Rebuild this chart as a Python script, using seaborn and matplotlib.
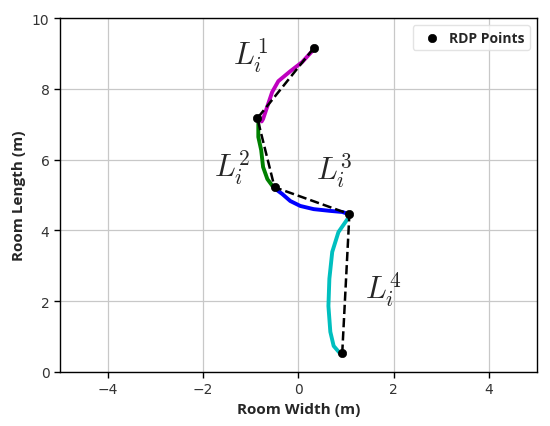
import matplotlib
matplotlib.use("Agg")
import matplotlib.pyplot as plt
import seaborn as sns
import pandas as pd

# Trajectory segments (room coords, metres)
seg1_x = [0.32, 0.29, 0.08, -0.17, -0.42, -0.55, -0.65, -0.74, -0.77]
seg1_y = [9.13, 9.07, 8.76, 8.50, 8.22, 7.91, 7.51, 7.15, 7.08]
seg2_x = [-0.84, -0.84, -0.78, -0.74, -0.65, -0.53]
seg2_y = [7.03, 6.64, 6.27, 5.79, 5.45, 5.23]
seg3_x = [-0.48, -0.34, -0.17, 0.04, 0.32, 0.67, 0.92, 1.05]
seg3_y = [5.17, 5.03, 4.83, 4.69, 4.60, 4.55, 4.52, 4.46]
seg4_x = [1.03, 0.84, 0.71, 0.65, 0.63, 0.67, 0.74, 0.88]
seg4_y = [4.32, 3.95, 3.39, 2.63, 1.86, 1.13, 0.73, 0.51]
seg_colors = ["m", "g", "b", "c"]

# RDP points
rdp_x = [0.32, -0.86, -0.50, 1.07, 0.92]
rdp_y = [9.15, 7.17, 5.22, 4.46, 0.54]

# Segment labels
label_text = [r"$L_i^1$", r"$L_i^2$", r"$L_i^3$", r"$L_i^4$"]
label_x = [-1.0, -1.39, 0.74, 1.79]
label_y = [8.98, 5.79, 5.73, 2.34]

sns.set_style("whitegrid")
plt.rcParams["mathtext.fontset"] = "cm"
plt.rcParams["font.family"] = ["DejaVu Sans"]

fig, ax = plt.subplots(figsize=(5.5, 4.27), dpi=100)
fig.subplots_adjust(left=0.109, right=0.976, top=0.955, bottom=0.127)

segs = [(seg1_x, seg1_y), (seg2_x, seg2_y), (seg3_x, seg3_y), (seg4_x, seg4_y)]
for (sx, sy), c in zip(segs, seg_colors):
    df = pd.DataFrame({"x": sx, "y": sy})
    sns.lineplot(data=df, x="x", y="y", sort=False, estimator=None,
                 color=c, linewidth=2.8, ax=ax)

rdp = pd.DataFrame({"x": rdp_x, "y": rdp_y})
sns.lineplot(data=rdp, x="x", y="y", sort=False, estimator=None,
             color="black", linewidth=1.8, linestyle="--", ax=ax)
sns.scatterplot(data=rdp, x="x", y="y", color="black", s=36,
                edgecolor="black", zorder=5, label="RDP Points", ax=ax)

for t, lx, ly in zip(label_text, label_x, label_y):
    ax.text(lx, ly, t, fontsize=22, ha="center", va="center")

ax.set_xlim(-5, 5)
ax.set_ylim(0, 10)
ax.set_xticks([-4, -2, 0, 2, 4])
ax.set_yticks([0, 2, 4, 6, 8, 10])
ax.grid(True, color="#c8c8c8", linewidth=0.9)
for s in ax.spines.values():
    s.set_color("black")
    s.set_linewidth(1.0)
ax.tick_params(axis="both", which="both", length=4, width=1, color="black",
               labelsize=10, labelcolor="#333333", left=True, bottom=True)

ax.set_xlabel("Room Width (m)", fontsize=11, fontweight="bold",
              family=["Open Sans", "DejaVu Sans"])
ax.set_ylabel("Room Length (m)", fontsize=11, fontweight="bold",
              family=["Open Sans", "DejaVu Sans"])

leg = ax.legend(loc="upper right", prop={"family": ["Open Sans", "DejaVu Sans"],
                                         "weight": "bold", "size": 10},
                frameon=True, handletextpad=0.2, borderpad=0.4)
leg.get_frame().set_edgecolor("#dddddd")

fig.savefig("out.png", dpi=100)
